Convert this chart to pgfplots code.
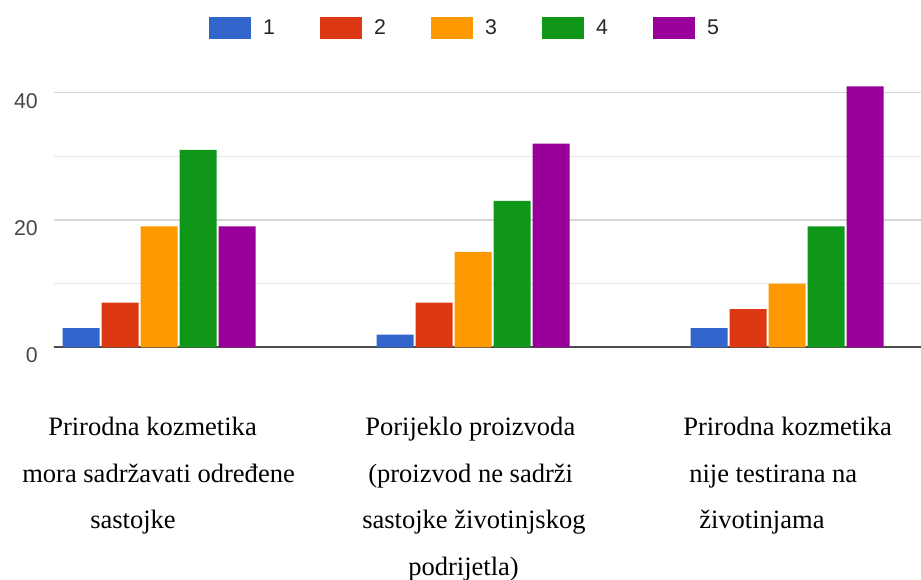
\documentclass[border=0pt]{standalone}
\usepackage{fontspec}
\setmainfont{Liberation Serif}
\newfontfamily\arial{Liberation Sans}
\usepackage{pgfplots}
\pgfplotsset{compat=1.18}
\definecolor{c1}{HTML}{3366CC}
\definecolor{c2}{HTML}{DC3912}
\definecolor{c3}{HTML}{FF9900}
\definecolor{c4}{HTML}{109618}
\definecolor{c5}{HTML}{990099}
\pgfplotsset{sqlegend/.style={legend image code/.code={\fill[##1] (0pt,-8.25pt) rectangle (31.5pt,8.25pt); \path (40.5pt,0pt);}}}
\begin{document}
\begin{tikzpicture}
\begin{axis}[
  at={(0,0)}, anchor=south west,
  x=235.5pt, y=4.774pt,
  xmin=-0.3344, xmax=2.427, ymin=0, ymax=43,
  ybar=1.5pt, bar width=27.75pt,
  axis lines=left,
  x axis line style={draw=black!70, line width=1.5pt, -},
  y axis line style={draw=none},
  xtick=\empty,
  ytick={0,20,40}, minor ytick={10,30},
  ymajorgrids, yminorgrids,
  major grid style={draw=black!16, line width=1.2pt},
  minor grid style={draw=black!9, line width=1.2pt},
  major tick length=0pt, minor tick length=0pt,
  /pgf/number format/assume math mode=true,
  yticklabel style={font=\arial\fontsize{16}{16}\selectfont, text=black!72, anchor=east, inner sep=0pt, xshift=-12pt, yshift=-6pt},
  every axis plot post/.append style={sqlegend},
  legend columns=5,
  legend style={font=\arial\fontsize{16}{16}\selectfont, text=black!85, draw=none, fill=none,
    at={(0.4729,1.1666)}, anchor=center, nodes={inner sep=0pt},
    /tikz/every even column/.append style={column sep=33.85pt}},
]
\addplot[fill=c1, draw=none] coordinates {(0,3) (1,2) (2,3)};
\addplot[fill=c2, draw=none] coordinates {(0,7) (1,7) (2,6)};
\addplot[fill=c3, draw=none] coordinates {(0,19) (1,15) (2,10)};
\addplot[fill=c4, draw=none] coordinates {(0,31) (1,23) (2,19)};
\addplot[fill=c5, draw=none] coordinates {(0,19) (1,32) (2,41)};
\legend{1,2,3,4,5}
\end{axis}
\begin{scope}[x=0.75pt, y=-0.75pt, shift={(-40.5pt,260.475pt)},
  every node/.style={anchor=base west, inner sep=0pt, font=\fontsize{19.9}{20}\selectfont}]
  \node at (48,435) {Prirodna kozmetika};
  \node at (22,482) {mora sadržavati određene};
  \node at (90,528) {sastojke};
  \node at (365,435) {Porijeklo proizvoda};
  \node at (368,482) {(proizvod ne sadrži};
  \node at (362,528) {sastojke životinjskog};
  \node at (408,575) {podrijetla)};
  \node at (683,435) {Prirodna kozmetika};
  \node at (689,482) {nije testirana na};
  \node at (699,528) {životinjama};
\end{scope}
\pgfresetboundingbox
\path[use as bounding box] (-40.5pt,260.475pt) rectangle (650.25pt,-173.775pt);
\end{tikzpicture}
\end{document}
